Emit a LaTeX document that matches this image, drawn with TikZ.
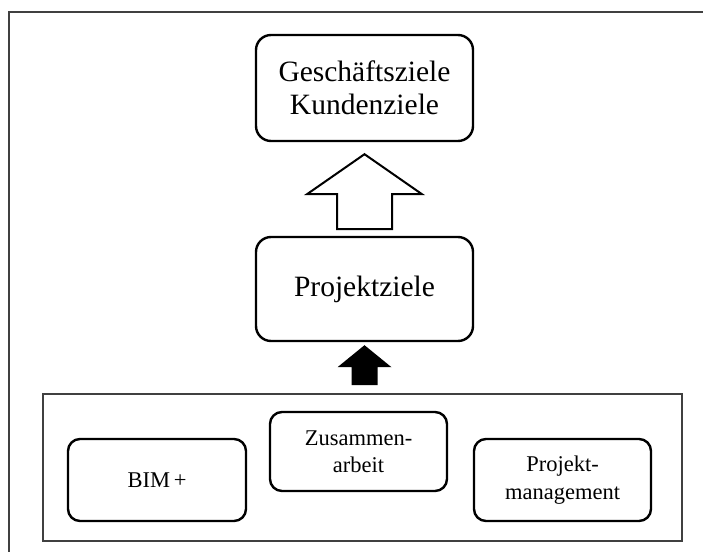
\documentclass[tikz,border=0pt]{standalone}
\usepackage{fontspec}
\setmainfont{Liberation Serif}
\usetikzlibrary{calc}
\begin{document}
\begin{tikzpicture}[x=1pt,y=-1pt,line join=miter]
	\tikzset{ziel box/.style={draw,line width=2.4pt,rounded corners=15pt,align=center,inner sep=0pt,
			font=\fontsize{29.5}{33}\selectfont},
		teil box/.style={draw,line width=2.4pt,rounded corners=12pt,align=center,inner sep=0pt,
			font=\fontsize{22.5}{27.5}\selectfont},
		rahmen linie/.style={draw=black!75,line width=1.2pt},
		hohl pfeil/.style={draw,fill=white,line width=2pt},
		voll pfeil/.style={fill=black}}
	\useasboundingbox (0,0) rectangle (703,551);
	\clip (0,0) rectangle (703,551);
	\draw[rahmen linie] (9,12) rectangle (720,570);
	% Ziele
	\node[ziel box,minimum width=217pt,minimum height=106pt] (ziele) at (364.5,88) {Geschäftsziele\\Kundenziele};
	\node[ziel box,minimum width=217pt,minimum height=104pt] (projekt) at (364.5,289) {Projektziele};
	% Grundlagen
	\node[rahmen linie,minimum width=639pt,minimum height=147pt,inner sep=0pt] (rahmen) at (362.5,467.5) {};
	\node[teil box,minimum width=178pt,minimum height=82pt] (bim) at (157,480) {BIM\,+};
	\node[teil box,minimum width=177pt,minimum height=79pt] (zusammen) at (358.5,451.5) {Zusammen-\\arbeit};
	\node[teil box,minimum width=177pt,minimum height=82pt] (pm) at (562.5,480) {Projekt-\\management};
	% Pfeile
	\draw[hohl pfeil] ($(ziele.south)+(0,12)$) -- ++(57.5,40) -- ++(-30,0) -- ++(0,35) -- ++(-55,0)
		-- ++(0,-35) -- ++(-30,0) -- cycle;
	\fill[voll pfeil] ($(projekt.south)+(0,3)$) -- ++(27,22) -- ++(-14,0) -- ++(0,18) -- ++(-26,0)
		-- ++(0,-18) -- ++(-14,0) -- cycle;
\end{tikzpicture}
\end{document}
